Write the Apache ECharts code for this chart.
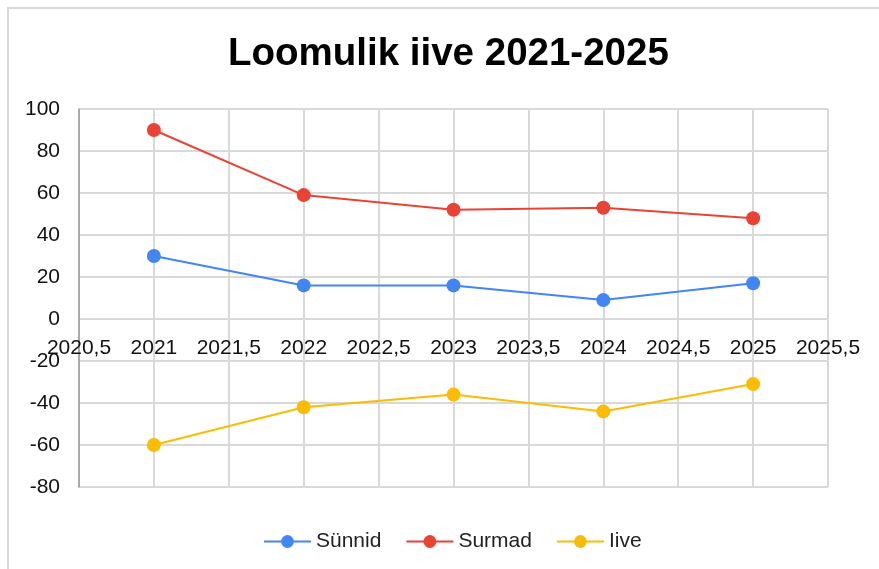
<!DOCTYPE html>
<html>
<head>
<meta charset="utf-8">
<script src="https://cdn.jsdelivr.net/npm/echarts@6/dist/echarts.min.js"></script>
<style>
  html, body { margin: 0; padding: 0; background: #fff; }
  #frame { position: absolute; left: 7px; top: 7px; width: 900px; height: 600px; border-left: 2px solid #d9d9d9; border-top: 2px solid #d9d9d9; box-sizing: border-box; }
  #chart { position: absolute; left: 0; top: 0; width: 879px; height: 569px; }
</style>
</head>
<body>
<div id="frame"></div>
<div id="chart"></div>
<script>
const years = [2021, 2022, 2023, 2024, 2025];
const synnid = [30, 16, 16, 9, 17];
const surmad = [90, 59, 52, 53, 48];
const iive = [-60, -42, -36, -44, -31];
const seriesNames = ['Sünnid', 'Surmad', 'Iive'];
const titleText = 'Loomulik iive 2021-2025';

const font = '"Liberation Sans", Arial, sans-serif';
const colors = ['#4285F4', '#EA4335', '#FBBC04'];
const pairs = arr => years.map((y, i) => [y, arr[i]]);

const gridTop = 109, gridBottom = 82, yMin = -80, yMax = 100;
const plotH = 569 - gridTop - gridBottom;
const zeroOffset = -plotH * (0 - yMin) / (yMax - yMin);

const chart = echarts.init(document.getElementById('chart'), null, { renderer: 'canvas' });
chart.setOption({
  backgroundColor: 'transparent',
  animation: false,
  color: colors,
  title: {
    text: titleText,
    left: 223,
    top: 30,
    textStyle: { fontFamily: font, fontSize: 38.5, fontWeight: 'bold', color: '#000' }
  },
  legend: {
    top: 526,
    left: 258,
    itemWidth: 47,
    itemHeight: 16,
    itemGap: 24,
    textStyle: { fontFamily: font, fontSize: 21, color: '#222' },
    data: seriesNames
  },
  grid: { left: 79, right: 51, top: gridTop, bottom: gridBottom, containLabel: false },
  xAxis: {
    type: 'value',
    min: 2020.5,
    max: 2025.5,
    interval: 0.5,
    offset: zeroOffset,
    axisLine: { show: false, onZero: false },
    axisTick: { show: false },
    splitLine: { show: true, lineStyle: { color: '#d9d9d9', width: 2 } },
    axisLabel: {
      margin: 19,
      fontFamily: font, fontSize: 21, color: '#111',
      formatter: v => String(v).replace('.', ',')
    }
  },
  yAxis: {
    type: 'value',
    min: yMin,
    max: yMax,
    interval: 20,
    axisLine: { show: true, onZero: false, lineStyle: { color: '#999', width: 1.5 } },
    axisTick: { show: false },
    splitLine: { show: true, lineStyle: { color: '#d9d9d9', width: 2 } },
    axisLabel: { margin: 19, fontFamily: font, fontSize: 21, color: '#111' }
  },
  series: [
    { name: seriesNames[0], type: 'line', data: pairs(synnid), symbol: 'circle', symbolSize: 14, lineStyle: { width: 2 } },
    { name: seriesNames[1], type: 'line', data: pairs(surmad), symbol: 'circle', symbolSize: 14, lineStyle: { width: 2 } },
    { name: seriesNames[2], type: 'line', data: pairs(iive), symbol: 'circle', symbolSize: 14, lineStyle: { width: 2 } }
  ]
});
</script>
</body>
</html>
